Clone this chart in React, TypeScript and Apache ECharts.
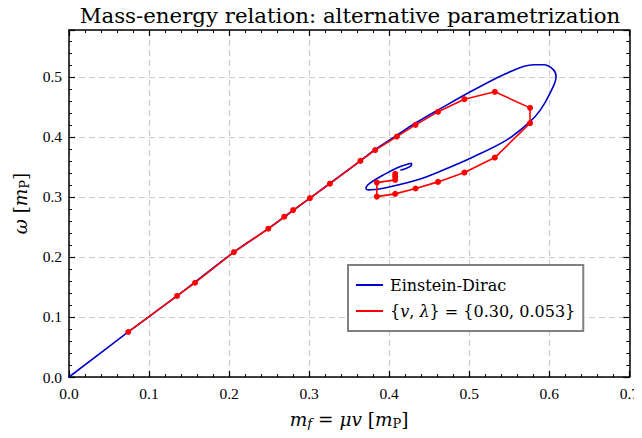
import React, { useEffect, useRef } from "react";
import * as echarts from "echarts";

const xTicks = [0, 0.1, 0.2, 0.3, 0.4, 0.5, 0.6, 0.7];
const yTicks = [0, 0.1, 0.2, 0.3, 0.4, 0.5];

const blueX = [0, 0.074, 0.135, 0.206, 0.249, 0.301, 0.364, 0.3825, 0.41, 0.433, 0.464, 0.5055, 0.547, 0.58, 0.593, 0.605, 0.6085, 0.601, 0.589, 0.576, 0.547, 0.5055, 0.466, 0.4346, 0.393, 0.374, 0.371, 0.376, 0.393, 0.414, 0.428, 0.4275, 0.418, 0.414];
const blueY = [0, 0.075, 0.135, 0.208, 0.247, 0.298, 0.36, 0.379, 0.403, 0.423, 0.447, 0.478, 0.506, 0.52, 0.52, 0.512, 0.5, 0.4728, 0.445, 0.4255, 0.395, 0.367, 0.344, 0.328, 0.3145, 0.3117, 0.3145, 0.3228, 0.3367, 0.3505, 0.356, 0.3517, 0.346, 0.3445];

const redX = [0.074, 0.135, 0.1575, 0.206, 0.249, 0.269, 0.28, 0.301, 0.326, 0.364, 0.3825, 0.4096, 0.433, 0.461, 0.494, 0.532, 0.576, 0.576, 0.532, 0.494, 0.461, 0.433, 0.4075, 0.3846, 0.3846, 0.4075, 0.4075, 0.4075];
const redY = [0.075, 0.135, 0.157, 0.208, 0.247, 0.267, 0.278, 0.298, 0.322, 0.36, 0.378, 0.4005, 0.42, 0.4417, 0.4628, 0.475, 0.4483, 0.4228, 0.3655, 0.3405, 0.325, 0.314, 0.305, 0.3005, 0.3238, 0.3283, 0.3339, 0.3383];

const FONT = "DejaVu Serif";
const TICKFONT = "Liberation Serif";

export default function App() {
  const ref = useRef<HTMLDivElement>(null);
  useEffect(() => {
    const chart = echarts.init(ref.current!, null, { renderer: "svg" });
    const blue = blueX.map((x, i) => [x, blueY[i]]);
    const red = redX.map((x, i) => [x, redY[i]]);
    const axisCommon = {
      type: "value",
      axisLine: { show: true, onZero: false, lineStyle: { color: "#000", width: 1.5 } },
      axisTick: { show: true, inside: true, length: 6, lineStyle: { color: "#000", width: 1.2 } },
      minorTick: { show: true, splitNumber: 5, length: 3, lineStyle: { color: "#000", width: 1 } },
    };
    const fmtX = (v: number) => (xTicks.some((t) => Math.abs(t - v) < 1e-6) ? v.toFixed(1) : "");
    const fmtY = (v: number) => (yTicks.some((t) => Math.abs(t - v) < 1e-6) ? v.toFixed(1) : "");
    const nameRich = {
      i: { fontFamily: FONT, fontStyle: "italic", fontSize: 18.5 },
      n: { fontFamily: FONT, fontSize: 18.5 },
      sub: { fontFamily: FONT, fontStyle: "italic", fontSize: 13, verticalAlign: "bottom", padding: [9, 0, 0, 0] },
      subn: { fontFamily: FONT, fontSize: 13, verticalAlign: "bottom", padding: [9, 0, 0, 0] },
    };
    chart.setOption({
      animation: false,
      textStyle: { fontFamily: TICKFONT },
      title: {
        text: "Mass-energy relation: alternative parametrization",
        left: 345,
        textAlign: "center",
        top: 0,
        textStyle: { fontFamily: FONT, fontWeight: "normal", fontSize: 21.3, color: "#000" },
      },
      grid: { left: 69, right: 12, top: 30, bottom: 61 },
      xAxis: [
        {
          ...axisCommon,
          min: 0, max: 0.7, interval: 0.1,
          position: "bottom",
          axisLabel: { fontFamily: TICKFONT, fontSize: 15.5, color: "#000", margin: 8, formatter: fmtX },
          splitLine: { show: true, lineStyle: { color: "#cccccc", type: [6, 4], width: 1.2 } },
          name: "{i|m}{sub|f}{n| = }{i|μv}{n| [}{i|m}{subn|P}{n|]}",
          nameLocation: "middle",
          nameGap: 31,
          nameTextStyle: { fontFamily: FONT, fontSize: 18.5, color: "#000", rich: nameRich },
        },
        {
          ...axisCommon,
          min: 0, max: 0.7, interval: 0.1,
          position: "top",
          axisLabel: { show: false },
          splitLine: { show: false },
        },
      ],
      yAxis: [
        {
          ...axisCommon,
          min: 0, max: 0.578, interval: 0.1,
          position: "left",
          axisLabel: { fontFamily: TICKFONT, fontSize: 15.5, color: "#000", margin: 7, formatter: fmtY },
          splitLine: { show: true, lineStyle: { color: "#cccccc", type: [6, 4], width: 1.2 } },
          name: "{i|ω}{n| [}{i|m}{subn|P}{n|]}",
          nameLocation: "middle",
          nameGap: 38,
          nameRotate: 90,
          nameTextStyle: { fontFamily: FONT, fontSize: 18.5, color: "#000", rich: nameRich },
        },
        {
          ...axisCommon,
          min: 0, max: 0.578, interval: 0.1,
          position: "right",
          axisLabel: { show: false },
          splitLine: { show: false },
        },
      ],
      legend: {
        orient: "vertical",
        left: 348,
        top: 265,
        padding: [12, 8, 12, 8],
        itemGap: 10,
        itemWidth: 27,
        itemHeight: 2,
        borderColor: "#808080",
        borderWidth: 2,
        borderRadius: 0,
        backgroundColor: "#fff",
        textStyle: {
          fontFamily: FONT, fontSize: 16, color: "#000", padding: [0, 0, 0, 2],
          rich: {
            n: { fontFamily: FONT, fontSize: 16 },
            i: { fontFamily: FONT, fontSize: 16, fontStyle: "italic" },
          },
        },
        formatter: (name: string) =>
          name === "Einstein-Dirac" ? "Einstein-Dirac" : "{{i|v}, {i|λ}} = {0.30, 0.053}",
        data: [
          { name: "Einstein-Dirac", icon: "rect" },
          { name: "param", icon: "rect" },
        ],
      },
      series: [
        {
          name: "Einstein-Dirac",
          type: "line",
          data: blue,
          smooth: 0.35,
          showSymbol: false,
          symbol: "none",
          lineStyle: { color: "#0000cc", width: 1.6 },
          itemStyle: { color: "#0000cc" },
          z: 2,
        },
        {
          name: "param",
          type: "line",
          data: red,
          symbol: "circle",
          symbolSize: 6,
          lineStyle: { color: "#ff0000", width: 1.6 },
          itemStyle: { color: "#ff0000" },
          z: 3,
        },
      ],
    });
    return () => chart.dispose();
  }, []);
  return <div ref={ref} style={{ width: 642, height: 438, margin: -8 }} />;
}
